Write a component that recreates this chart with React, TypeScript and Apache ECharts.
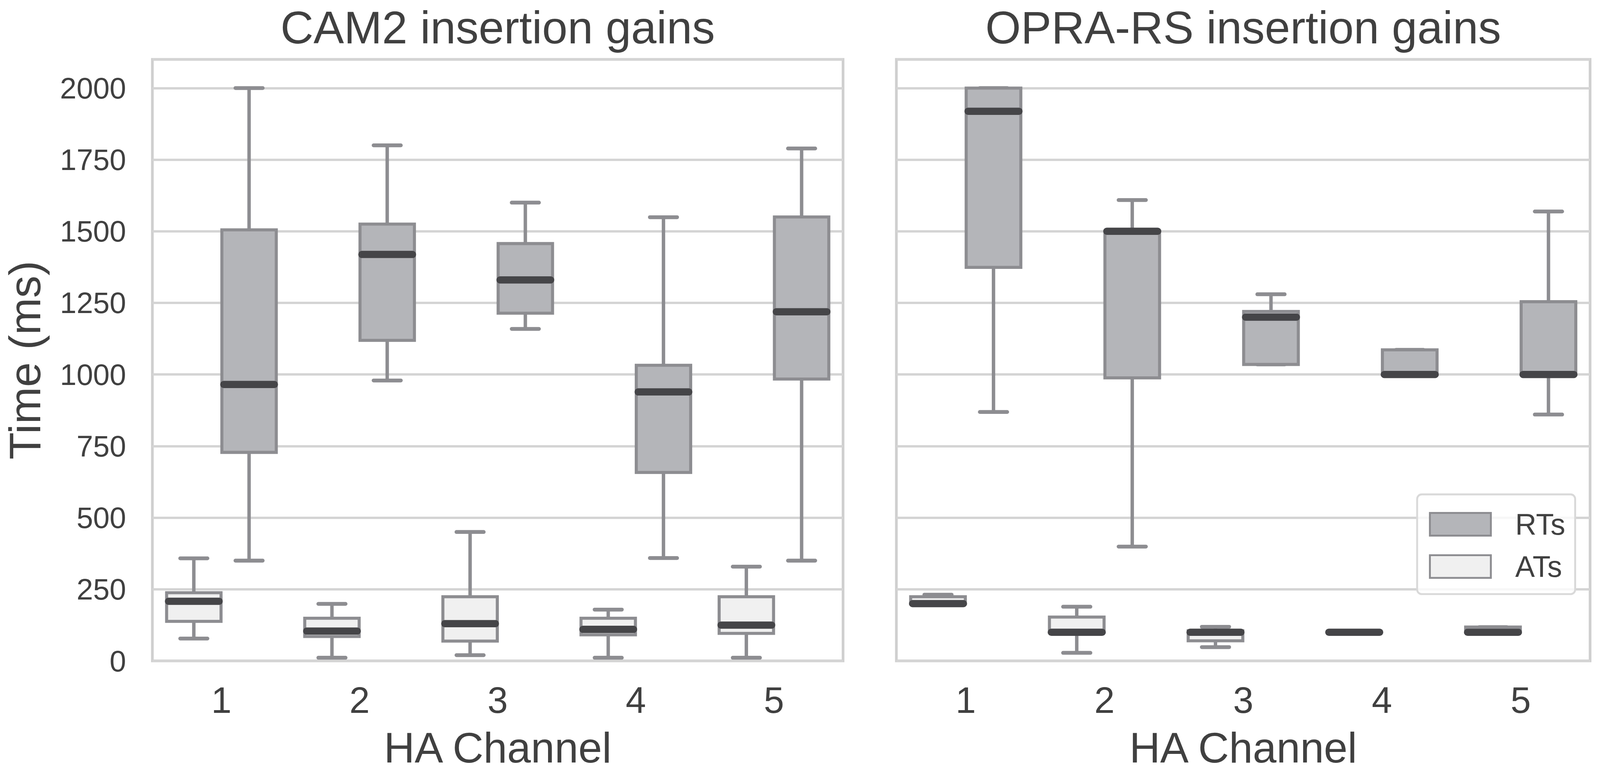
import React, { useEffect, useRef } from 'react';
import * as echarts from 'echarts';

const categories = ['1', '2', '3', '4', '5'];
const yMin = 0;
const yMax = 2100;
const yInterval = 250;
const seriesNames = ['RTs', 'ATs'];
const panelTitles = ['CAM2 insertion gains', 'OPRA-RS insertion gains'];

// [min, Q1, median, Q3, max] per HA channel
const cam2RTs = [
  [350, 728, 965, 1505, 2000],
  [979, 1119, 1419, 1525, 1800],
  [1159, 1214, 1330, 1457, 1600],
  [359, 658, 939, 1032, 1549],
  [350, 984, 1219, 1550, 1789],
];
const cam2ATs = [
  [78, 138, 208, 238, 358],
  [11, 85, 104, 149, 199],
  [20, 69, 130, 224, 450],
  [11, 91, 110, 149, 179],
  [11, 96, 125, 224, 329],
];
const opraRTs = [
  [869, 1374, 1919, 2000, 2000],
  [399, 988, 1500, 1500, 1609],
  [1035, 1035, 1200, 1220, 1280],
  [1000, 1000, 1000, 1086, 1086],
  [860, 1000, 1000, 1254, 1569],
];
const opraATs = [
  [200, 200, 200, 224, 231],
  [28, 100, 100, 153, 189],
  [48, 70, 100, 105, 119],
  [100, 100, 100, 100, 100],
  [100, 100, 100, 118, 118],
];

const FONT = '"Liberation Sans", Arial, Helvetica, sans-serif';
const TEXT = '#404040';
const EDGE = '#8d8d91';
const MEDIAN = '#454548';
const RT_FILL = '#b4b5b9';
const AT_FILL = '#f0f0f0';
const GRID_LINE = '#d4d4d4';
const SPINE = '#cfcfcf';

const REF_W = 4200;
const REF_H = 1983;

function boxSeries(
  name: string,
  stats: number[][],
  gridIndex: number,
  offset: number,
  fill: string,
  k: number
) {
  return {
    type: 'custom',
    name,
    xAxisIndex: gridIndex,
    yAxisIndex: gridIndex,
    data: stats.map((s, i) => [i, ...s]),
    encode: { x: 0, y: [1, 2, 3, 4, 5] },
    itemStyle: { color: fill, borderColor: EDGE },
    renderItem: (params: any, api: any) => {
      const cat = api.value(0);
      const band = api.size([1, 0])[0];
      const cx = api.coord([cat, 0])[0] + offset * band;
      const bw = 0.394 * band;
      const yv = (i: number) => api.coord([cat, api.value(i)])[1];
      const pMin = yv(1);
      const pQ1 = yv(2);
      const pMed = yv(3);
      const pQ3 = yv(4);
      const pMax = yv(5);
      const capHalf = bw * 0.25;
      const children: any[] = [];
      children.push({
        type: 'line',
        shape: { x1: cx, y1: pQ3, x2: cx, y2: pMax },
        style: { stroke: EDGE, lineWidth: 9 * k },
      });
      children.push({
        type: 'line',
        shape: { x1: cx, y1: pQ1, x2: cx, y2: pMin },
        style: { stroke: EDGE, lineWidth: 9 * k },
      });
      children.push({
        type: 'line',
        shape: { x1: cx - capHalf, y1: pMax, x2: cx + capHalf, y2: pMax },
        style: { stroke: EDGE, lineWidth: 10 * k, lineCap: 'round' },
      });
      children.push({
        type: 'line',
        shape: { x1: cx - capHalf, y1: pMin, x2: cx + capHalf, y2: pMin },
        style: { stroke: EDGE, lineWidth: 10 * k, lineCap: 'round' },
      });
      children.push({
        type: 'rect',
        shape: { x: cx - bw / 2, y: pQ3, width: bw, height: pQ1 - pQ3 },
        style: { fill, stroke: EDGE, lineWidth: 8 * k },
      });
      children.push({
        type: 'line',
        shape: { x1: cx - bw / 2 + 5 * k, y1: pMed, x2: cx + bw / 2 - 5 * k, y2: pMed },
        style: { stroke: MEDIAN, lineWidth: 19 * k, lineCap: 'round' },
      });
      return { type: 'group', children };
    },
  };
}

export default function App() {
  const ref = useRef<HTMLDivElement>(null);
  const W = typeof window !== 'undefined' && window.innerWidth ? Math.min(window.innerWidth, REF_W) : REF_W;
  const H = typeof window !== 'undefined' && window.innerHeight ? Math.min(window.innerHeight, REF_H) : REF_H;

  useEffect(() => {
    if (!ref.current) return;
    const sx = W / REF_W;
    const sy = H / REF_H;
    const k = Math.min(sx, sy);
    const grids = [
      { left: 400 * sx, top: 152 * sy, width: 1813 * sx, height: 1539 * sy },
      { left: 2353 * sx, top: 152 * sy, width: 1821 * sx, height: 1539 * sy },
    ];
    const chart = echarts.init(ref.current, undefined, { renderer: 'svg' });
    const option: any = {
      animation: false,
      backgroundColor: '#ffffff',
      grid: grids.map((g) => ({
        ...g,
        show: true,
        borderColor: SPINE,
        borderWidth: 7 * k,
        backgroundColor: 'transparent',
        containLabel: false,
      })),
      xAxis: grids.map((_, i) => ({
        type: 'category',
        gridIndex: i,
        data: categories,
        boundaryGap: true,
        axisLine: { show: false },
        axisTick: { show: false },
        splitLine: { show: false },
        axisLabel: {
          fontSize: 96 * k,
          lineHeight: 96 * k,
          fontFamily: FONT,
          color: TEXT,
          margin: 54 * sy,
        },
        name: 'HA Channel',
        nameLocation: 'middle',
        nameGap: 167 * sy,
        nameTextStyle: { fontSize: 112 * k, lineHeight: 112 * k, fontFamily: FONT, color: TEXT },
      })),
      yAxis: grids.map((_, i) => ({
        type: 'value',
        gridIndex: i,
        min: yMin,
        max: yMax,
        interval: yInterval,
        axisLine: { show: false },
        axisTick: { show: false },
        splitLine: { show: true, lineStyle: { color: GRID_LINE, width: 6 * k } },
        axisLabel: {
          show: i === 0,
          fontSize: 78 * k,
          lineHeight: 78 * k,
          fontFamily: FONT,
          color: TEXT,
          margin: 69 * sx,
          formatter: (v: number) => (v > 2000 ? '' : String(v)),
        },
        name: i === 0 ? 'Time (ms)' : '',
        nameLocation: 'middle',
        nameRotate: 90,
        nameGap: 276 * sx,
        nameTextStyle: { fontSize: 114 * sy, lineHeight: 114 * sy, fontFamily: FONT, color: TEXT },
      })),
      legend: {
        show: true,
        orient: 'vertical',
        left: 3720 * sx,
        top: 1265 * sy,
        padding: [39 * sy, 26 * sx, 33 * sy, 31 * sx],
        itemGap: 33 * sy,
        itemWidth: 160 * sx,
        itemHeight: 58 * sy,
        selectedMode: false,
        backgroundColor: 'rgba(255,255,255,0.8)',
        borderColor: '#d9d9d9',
        borderWidth: 5 * k,
        borderRadius: 12 * k,
        textStyle: {
          fontSize: 77 * k,
          lineHeight: 77 * k,
          fontFamily: FONT,
          color: TEXT,
          padding: [0, 0, 0, 59 * sx],
        },
        data: [
          { name: seriesNames[0], icon: 'rect', itemStyle: { color: RT_FILL, borderColor: EDGE, borderWidth: 5 * k } },
          { name: seriesNames[1], icon: 'rect', itemStyle: { color: AT_FILL, borderColor: EDGE, borderWidth: 5 * k } },
        ],
      },
      graphic: panelTitles.map((t, i) => ({
        type: 'text',
        x: grids[i].left + grids[i].width / 2,
        y: 70 * sy,
        style: {
          text: t,
          fontSize: 120 * k,
          fontFamily: FONT,
          fill: TEXT,
          align: 'center',
          verticalAlign: 'middle',
        },
      })),
      series: [
        boxSeries(seriesNames[0], cam2RTs, 0, 0.2, RT_FILL, k),
        boxSeries(seriesNames[1], cam2ATs, 0, -0.2, AT_FILL, k),
        boxSeries(seriesNames[0], opraRTs, 1, 0.2, RT_FILL, k),
        boxSeries(seriesNames[1], opraATs, 1, -0.2, AT_FILL, k),
      ],
    };
    chart.setOption(option);
    return () => chart.dispose();
  }, [W, H]);

  return (
    <div
      ref={ref}
      style={{ position: 'absolute', left: 0, top: 0, width: W, height: H }}
    />
  );
}
